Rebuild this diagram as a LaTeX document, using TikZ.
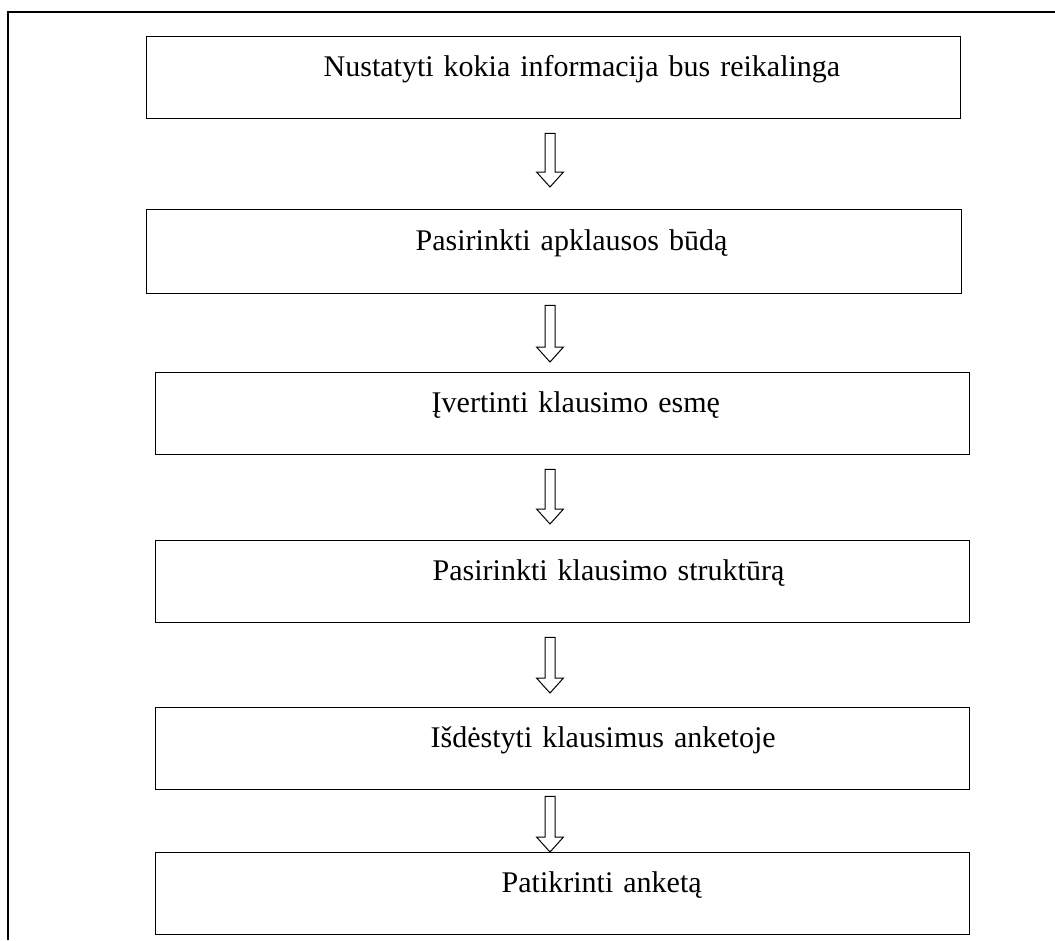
\documentclass[tikz,border=0pt]{standalone}
\usepackage{fontspec}
\setmainfont{Liberation Serif}
\usetikzlibrary{calc}
\tikzset{
  stepbox/.style={draw, line width=1.4pt, rectangle, anchor=north west,
    inner xsep=0pt, inner ysep=0pt, align=left,
    text height=20pt, text depth=22pt,
    font=\fontsize{30}{35}\selectfont},
  hollowarrow/.style={draw, line width=1pt, line join=miter}
}
\begin{document}
\begin{tikzpicture}[x=1pt,y=-1pt]
        \useasboundingbox (0,0) rectangle (1055,940);
        % Frame
        \draw[line width=1.4pt] (8,940) -- (8,12) -- (1055,12);
        % Steps
        \node[stepbox, text width=814pt, minimum height=82pt] (b1) at (146,36)
            {\hspace*{177pt}Nustatyti kokia informacija bus reikalinga};
        \node[stepbox, text width=815pt, minimum height=84pt] (b2) at (146,209)
            {\hspace*{269pt}Pasirinkti apklausos būdą};
        \node[stepbox, text width=814pt, minimum height=82pt] (b3) at (155,372)
            {\hspace*{276pt}Įvertinti klausimo esmę};
        \node[stepbox, text width=814pt, minimum height=82pt] (b4) at (155,540)
            {\hspace*{277pt}Pasirinkti klausimo struktūrą};
        \node[stepbox, text width=814pt, minimum height=82pt] (b5) at (155,707)
            {\hspace*{275pt}Išdėstyti klausimus anketoje};
        \node[stepbox, text width=814pt, minimum height=82pt] (b6) at (155,852)
            {\hspace*{346pt}Patikrinti anketą};
        % Arrows
        \coordinate (ax) at (550,0);
        \foreach \a/\b/\s/\e in {b1/b2/14/22, b2/b3/11/10, b3/b4/14/16, b4/b5/14/14, b5/b6/6/0} {
            \draw[hollowarrow] let \p1=($(\a.south -| ax)+(0,\s)$), \p2=($(\b.north -| ax)-(0,\e)$) in
                (\x1-5pt,\y1) -- (\x1+5pt,\y1) -- (\x1+5pt,\y2+15pt) -- (\x1+13.5pt,\y2+15pt)
                -- (\x2,\y2) -- (\x1-13.5pt,\y2+15pt) -- (\x1-5pt,\y2+15pt) -- cycle;
        }
\end{tikzpicture}
\end{document}
